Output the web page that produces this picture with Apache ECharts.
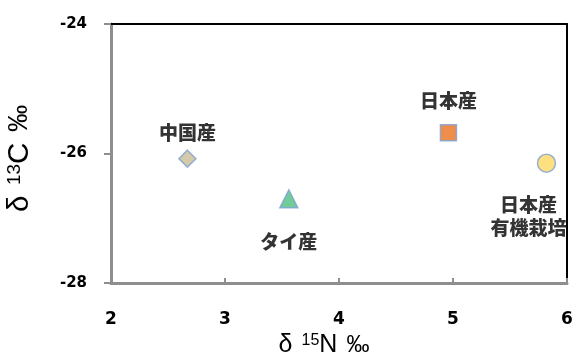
<!DOCTYPE html>
<html>
<head>
<meta charset="utf-8">
<script src="https://cdn.jsdelivr.net/npm/echarts@6/dist/echarts.min.js"></script>
<style>
  html, body { margin: 0; padding: 0; background: #fff; }
  #chart { width: 577px; height: 361px; }
</style>
</head>
<body>
<div id="chart"></div>
<script>
// Origins of rice samples and their isotope ratios
const origins = ['中国産', 'タイ産', '日本産', '日本産\n有機栽培'];
const d15N = [2.67, 3.56, 4.96, 5.82];
const d13C = [-26.08, -26.70, -25.68, -26.15];

const xTicks = [2, 3, 4, 5, 6];
const yTicks = [-28, -26, -24];

const symbols = ['diamond', 'triangle', 'rect', 'circle'];
const fills = ['#c9bb94', '#4cc07c', '#e8731e', '#ffd862'];
const sizes = [17, 18, 16, 18];
const labelPos = [
  { position: 'top', distance: 5 },
  { position: 'bottom', distance: 22 },
  { position: 'top', distance: 12 },
  { position: 'bottom', distance: 20, offset: [-18, 0] }
];

const labelFont = '"Noto Sans CJK JP", sans-serif';
const numFont = '"DejaVu Sans", sans-serif';
const nameFont = '"Liberation Sans", Arial, sans-serif';

const series = origins.map((name, i) => ({
  type: 'scatter',
  name: name,
  xAxisIndex: 0,
  yAxisIndex: 0,
  symbol: symbols[i],
  symbolSize: sizes[i],
  itemStyle: { color: fills[i], borderColor: '#7f9fd4', borderWidth: 1.5 },
  label: Object.assign({
    show: true,
    formatter: () => name,
    color: '#000',
    fontFamily: labelFont,
    fontWeight: 900,
    fontSize: 19,
    lineHeight: 23,
    align: 'center'
  }, labelPos[i]),
  data: [[d15N[i], d13C[i]]],
  z: 3
}));

// axis titles: δ, superscript mass number, element, per-mil sign
function nameRich(scale) {
  return {
    d: { fontFamily: nameFont, fontSize: 25 * scale, color: '#000', padding: [0, 9 * scale, 0, 0] },
    s: { fontFamily: nameFont, fontSize: 16 * scale, color: '#000', verticalAlign: 'top', padding: [0, 0, 9 * scale, 0] },
    b: { fontFamily: nameFont, fontSize: 25 * scale, color: '#000', padding: [0, 9 * scale, 0, 0] },
    p: { fontFamily: nameFont, fontSize: 23 * scale, color: '#000' }
  };
}

const chart = echarts.init(document.getElementById('chart'), null, { renderer: 'canvas' });
chart.setOption({
  animation: false,
  backgroundColor: '#fff',
  grid: { left: 111, top: 24, width: 456, height: 259, containLabel: false, outerBoundsMode: 'none' },
  xAxis: [
    {
      type: 'value', min: xTicks[0], max: xTicks[xTicks.length - 1], interval: 1,
      position: 'bottom',
      splitLine: { show: false },
      axisLine: { lineStyle: { color: '#8e8e8e', width: 3 } },
      axisTick: { inside: true, length: 5, lineStyle: { color: '#8e8e8e', width: 2 } },
      axisLabel: { margin: 28, color: '#000', fontFamily: numFont, fontWeight: 'bold', fontSize: 17 },
      name: '{d|δ}{s|15}{b|N}{p|‰}',
      nameLocation: 'middle',
      nameGap: 50,
      nameTextStyle: { padding: [0, 30, 0, 0], rich: nameRich(1) }
    },
    {
      type: 'value', min: 2, max: 6, position: 'top',
      axisLine: { show: true, onZero: false, lineStyle: { color: '#000', width: 2 } },
      axisTick: { show: false }, axisLabel: { show: false }, splitLine: { show: false }
    }
  ],
  yAxis: [
    {
      type: 'value', min: yTicks[0], max: yTicks[yTicks.length - 1], interval: 2,
      position: 'left',
      splitLine: { show: false },
      axisLine: { lineStyle: { color: '#8e8e8e', width: 3 } },
      axisTick: { inside: false, length: 7, lineStyle: { color: '#8e8e8e', width: 2 } },
      axisLabel: { margin: 24, color: '#000', fontFamily: numFont, fontWeight: 'bold', fontSize: 15 },
      name: '{d|δ}{s|13}{b|C}{p|‰}',
      nameLocation: 'middle',
      nameGap: 76,
      nameRotate: 90,
      nameTextStyle: { padding: [0, 10, 0, 0], rich: nameRich(1.18) }
    },
    {
      type: 'value', min: -28, max: -24, position: 'right',
      axisLine: { show: true, onZero: false, lineStyle: { color: '#000', width: 2 } },
      axisTick: { show: false }, axisLabel: { show: false }, splitLine: { show: false }
    }
  ],
  series: series
});
</script>
</body>
</html>
